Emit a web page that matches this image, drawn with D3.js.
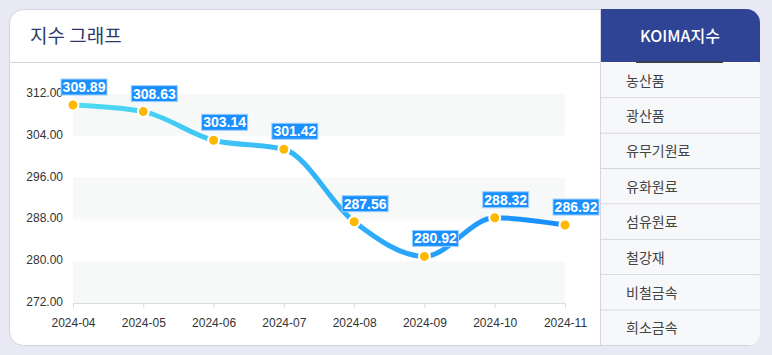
<!DOCTYPE html>
<html><head><meta charset="utf-8">
<script src="https://cdn.jsdelivr.net/npm/d3@7"></script>
<style>
html,body{margin:0;padding:0;background:#e9e9f5;}
svg{display:block;}
</style></head>
<body>
<svg id="c" width="772" height="355"></svg>
<script>
const months = ["2024-04","2024-05","2024-06","2024-07","2024-08","2024-09","2024-10","2024-11"];
const values = [309.89,308.63,303.14,301.42,287.56,280.92,288.32,286.92];
const yTicks = [272,280,288,296,304,312];
const menuItems = ["농산품","광산품","유무기원료","유화원료","섬유원료","철강재","비철금속","희소금속"];
const titleText = "지수 그래프";
const sideTitle = "KOIMA지수";

const svg = d3.select("#c");
const KR = "'Noto Sans CJK KR','Noto Sans',sans-serif";
const AR = "'Liberation Sans',Arial,sans-serif";

// card
const cardX=9, cardY=9, cardW=751, cardH=337, r=14;
const defs = svg.append("defs");
defs.append("clipPath").attr("id","cardClip").append("rect")
  .attr("x",cardX).attr("y",cardY).attr("width",cardW).attr("height",cardH).attr("rx",r);
svg.append("rect").attr("x",cardX+0.5).attr("y",cardY+0.5).attr("width",cardW-1).attr("height",cardH-1)
  .attr("rx",r).attr("fill","#fff").attr("stroke","#d4d4dc");
const g = svg.append("g").attr("clip-path","url(#cardClip)");

// header line
g.append("line").attr("x1",cardX).attr("x2",600).attr("y1",62.5).attr("y2",62.5).attr("stroke","#d6d6de");
g.append("text").attr("x",30).attr("y",43).text(titleText)
  .attr("font-family",KR).attr("font-size",19).attr("fill","#2c3a6c");

// sidebar
const sbX=600, sbW=cardX+cardW-600;
g.append("rect").attr("x",sbX).attr("y",cardY).attr("width",sbW).attr("height",62-cardY).attr("fill","#2f4494");
g.append("text").attr("x",sbX+sbW/2).attr("y",42).attr("text-anchor","middle").text(sideTitle)
  .attr("font-family",KR).attr("font-size",16).attr("font-weight",500).attr("fill","#fff");
g.append("rect").attr("x",636).attr("y",61).attr("width",87).attr("height",2).attr("fill","#3b3f4f");
const rowH = (cardY+cardH-63)/menuItems.length;
const rows = g.selectAll("g.row").data(menuItems).join("g").attr("class","row")
  .attr("transform",(d,i)=>`translate(${sbX},${63+i*rowH})`);
rows.append("rect").attr("width",sbW).attr("height",rowH).attr("fill","#f7f8fa");
rows.append("line").attr("x1",0).attr("x2",sbW).attr("y1",rowH-0.5).attr("y2",rowH-0.5).attr("stroke","#d2d3d8");
rows.append("text").attr("x",26).attr("y",rowH/2+5).text(d=>d)
  .attr("font-family",KR).attr("font-size",14).attr("fill","#444");
g.append("line").attr("x1",sbX+0.5).attr("x2",sbX+0.5).attr("y1",cardY).attr("y2",cardY+cardH).attr("stroke","#d6d6de");

// chart
const x = d3.scalePoint().domain(months).range([73,565]);
const y = d3.scaleLinear().domain([272,312]).range([303,94]);

// bands
const bandPairs = [[304,312],[288,296],[272,280]];
svg.append("g").selectAll("rect").data(bandPairs).join("rect")
  .attr("x",73).attr("width",565-73)
  .attr("y",d=>y(d[1])).attr("height",d=>y(d[0])-y(d[1]))
  .attr("fill","#f7f8f8");

// y axis labels
const yAxis = d3.axisLeft(y).tickValues(yTicks).tickFormat(d3.format(".2f")).tickSize(0).tickPadding(10);
const ya = svg.append("g").attr("transform","translate(73,0)").call(yAxis);
ya.select(".domain").remove();
ya.selectAll("text").attr("font-family",AR).attr("font-size",12).attr("fill","#333").attr("dy","0.2em").attr("x",-10);

// x axis
const xAxis = d3.axisBottom(x).tickSize(5).tickPadding(10);
const xa = svg.append("g").attr("transform","translate(0,303)").call(xAxis);
xa.select(".domain").attr("stroke","#dcdcdc").attr("d","M73,0.5H565.5");
xa.selectAll(".tick line").attr("stroke","#dcdcdc");
xa.selectAll("text").attr("font-family",AR).attr("font-size",12).attr("fill","#333");

// gradient line
const grad = defs.append("linearGradient").attr("id","lg").attr("gradientUnits","userSpaceOnUse")
  .attr("x1",73).attr("x2",565).attr("y1",0).attr("y2",0);
grad.append("stop").attr("offset","0%").attr("stop-color","#50dcf0");
grad.append("stop").attr("offset","100%").attr("stop-color","#168cff");
const data = months.map((m,i)=>({m,v:values[i]}));
const line = d3.line().x(d=>x(d.m)).y(d=>y(d.v)).curve(d3.curveMonotoneX);
svg.append("path").datum(data).attr("d",line).attr("fill","none")
  .attr("stroke","url(#lg)").attr("stroke-width",5).attr("stroke-linecap","round");

// points
svg.append("g").selectAll("circle").data(data).join("circle")
  .attr("cx",d=>x(d.m)).attr("cy",d=>y(d.v)).attr("r",5.5)
  .attr("fill","#ffb800").attr("stroke","#fff").attr("stroke-width",2);

// labels
const lab = svg.append("g").selectAll("g").data(data).join("g")
  .attr("transform",d=>`translate(${x(d.m)+11},${y(d.v)-18})`);
lab.append("rect").attr("x",-23).attr("y",-8).attr("width",46).attr("height",16)
  .attr("fill","#1a90ff").attr("stroke","#9fd0ff").attr("stroke-width",1);
lab.append("text").attr("text-anchor","middle").attr("y",5).text(d=>d.v.toFixed(2))
  .attr("font-family",AR).attr("font-size",14).attr("font-weight","bold").attr("fill","#fff");
</script>
</body></html>
